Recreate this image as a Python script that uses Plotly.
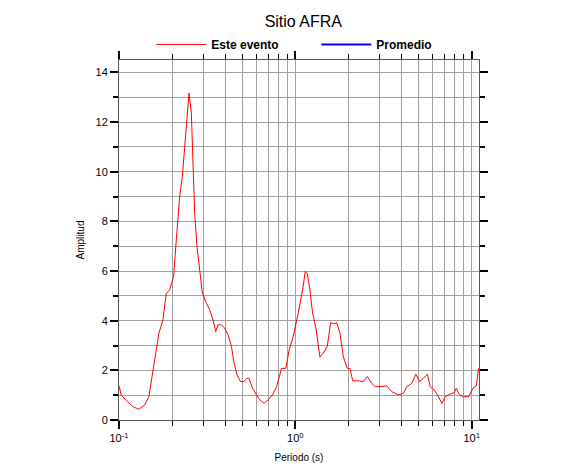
import plotly.graph_objects as go

# Periodo (s) and amplitude of "Este evento"
periodo = [0.1, 0.1029, 0.1099, 0.1198, 0.1296, 0.1396, 0.1477, 0.1544, 0.1591, 0.1684,
           0.1774, 0.1854, 0.1936, 0.2040, 0.2113, 0.2207, 0.2287, 0.2357, 0.2429, 0.2493,
           0.2572, 0.2627, 0.2685, 0.2767, 0.2867, 0.2971, 0.3131, 0.3267, 0.3412, 0.3535,
           0.3643, 0.3809, 0.3976, 0.4151, 0.4341, 0.4474, 0.4671, 0.4883, 0.5099, 0.5322,
           0.5463, 0.5711, 0.6018, 0.6284, 0.6647, 0.7005, 0.7422,
           0.782, 0.835, 0.883, 0.922, 0.972, 1.037, 1.099, 1.137, 1.167, 1.209,
           1.252, 1.308, 1.378, 1.439, 1.516, 1.585, 1.655, 1.714, 1.790, 1.869,
           1.969, 2.040, 2.113, 2.244, 2.428, 2.558, 2.710, 2.829, 3.021, 3.298,
           3.521, 3.838, 4.098, 4.284, 4.574, 4.819, 5.05, 5.322, 5.609, 5.810,
           6.122, 6.477, 6.771, 7.07, 7.55, 7.955, 8.165, 8.525, 8.98, 9.59,
           10.16, 10.61, 10.93]
amplitud = [1.38, 1.0, 0.8, 0.54, 0.43, 0.6, 0.94, 1.75, 2.28, 3.5,
            4.03, 5.1, 5.24, 5.78, 7.26, 9.0, 9.81, 11.02, 12.16, 13.17,
            12.37, 10.35, 8.33, 6.99, 6.05, 5.11, 4.70, 4.44, 4.03, 3.56,
            3.83, 3.83, 3.70, 3.43, 2.96, 2.35, 1.81, 1.55, 1.55, 1.68,
            1.68, 1.28, 1.01, 0.81, 0.67, 0.81, 1.01,
            1.34, 2.08, 2.08, 2.82, 3.36, 4.30, 5.24, 5.98, 5.91, 5.24,
            4.30, 3.70, 2.53, 2.69, 2.96, 3.92, 3.87, 3.92, 3.50, 2.55,
            2.08, 2.08, 1.58, 1.58, 1.55, 1.75, 1.48, 1.34, 1.34, 1.37,
            1.14, 1.01, 1.08, 1.34, 1.48, 1.85, 1.55, 1.68, 1.85, 1.34,
            1.21, 0.94, 0.67, 0.94, 1.05, 1.10, 1.28, 1.01, 0.94, 0.94,
            1.28, 1.37, 2.08]

# "Promedio" series has no visible data in the reference
promedio_periodo = [None]
promedio_amplitud = [None]

# x tick labels
x_tickvals = [0.1, 1, 10]
x_ticktext = ["10<sup>-1</sup>", "10<sup>0</sup>", "10<sup>1</sup>"]

FONT = "Liberation Sans, Arial, sans-serif"

fig = go.Figure()
fig.add_trace(go.Scatter(x=periodo, y=amplitud, mode="lines", name="<b>Este evento</b>",
                         line=dict(color="#ff0000", width=1)))
fig.add_trace(go.Scatter(x=promedio_periodo, y=promedio_amplitud, mode="lines",
                         name="<b>Promedio</b>", line=dict(color="#0000ff", width=2)))

# the page body adds an 8px offset, margins compensate for it
fig.update_layout(
    width=586, height=475,
    margin=dict(l=111, r=115, t=52, b=63, autoexpand=False),
    paper_bgcolor="white", plot_bgcolor="white",
    font=dict(family=FONT, size=11, color="black"),
    title=dict(text="Sitio AFRA", x=0.512, xanchor="center", xref="paper",
               y=0.971, yref="container", yanchor="middle",
               font=dict(size=16, family=FONT, color="black")),
    legend=dict(orientation="h", x=0.548, xanchor="center", y=1.003, yanchor="bottom",
                font=dict(size=12, family=FONT), entrywidth=100, itemwidth=50,
                bgcolor="rgba(0,0,0,0)"),
    showlegend=True,
)

fig.update_xaxes(
    type="log", range=[-1, 1.041],
    tickmode="array", tickvals=x_tickvals, ticktext=x_ticktext,
    showgrid=False, zeroline=False,
    showline=True, linecolor="#555555", linewidth=1, mirror="ticks",
    ticks="outside", ticklen=8, tickwidth=2, tickcolor="black",
    tickfont=dict(size=11, family=FONT),
    minor=dict(dtick="D1", showgrid=True, gridcolor="#a0a0a0", gridwidth=1,
               ticks="outside", ticklen=5, tickwidth=1, tickcolor="black"),
    title=dict(text="Periodo (s)", font=dict(size=10, family=FONT), standoff=10),
)
fig.update_yaxes(
    range=[0, 14.5], dtick=2, tick0=0,
    showgrid=True, gridcolor="#a0a0a0", gridwidth=1, zeroline=False,
    showline=True, linecolor="#555555", linewidth=1, mirror="ticks",
    ticks="outside", ticklen=8, tickwidth=2, tickcolor="black",
    tickfont=dict(size=11, family=FONT),
    minor=dict(dtick=1, showgrid=True, gridcolor="#a0a0a0", gridwidth=1,
               ticks="outside", ticklen=5, tickwidth=1.5, tickcolor="black"),
    title=dict(text="Amplitud", font=dict(size=10, family=FONT), standoff=9),
)

fig.write_html("out.html")
